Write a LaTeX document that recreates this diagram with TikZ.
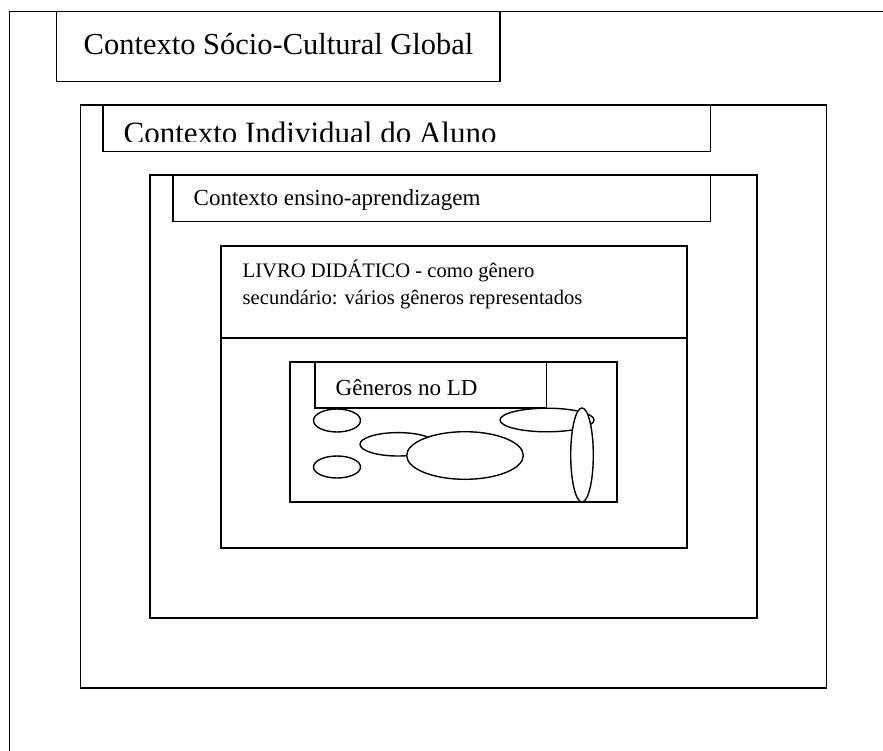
\documentclass[tikz,border=0pt]{standalone}
\usepackage{fontspec}
\setmainfont{Liberation Serif}
\begin{document}
\begin{tikzpicture}[x=1pt,y=-1pt,line width=1.4pt,
  frame/.style={draw,rectangle,inner sep=0pt,outer sep=0pt,anchor=north west,line width=1.4pt},
  bigtxt/.style={anchor=base west,inner sep=0pt,font=\fontsize{30.5}{36}\selectfont},
  smalltxt/.style={anchor=base west,inner sep=0pt,font=\fontsize{20.6}{27}\selectfont},
  blob/.style={draw,fill=white,line width=1.4pt}]
\useasboundingbox (0,0) rectangle (883,751);
% outer frame (open at right and bottom)
\coordinate (fbl) at (9.5,751);
\coordinate (ftl) at (9.5,11.5);
\coordinate (ftr) at (883,11.5);
\draw (fbl) -- (ftl) -- (ftr);
% Global context
\node[frame,minimum width=443.5pt,minimum height=70pt] (global) at (56.5,11.5) {};
\node[bigtxt] (tglobal) at (83,55) {Contexto Sócio-Cultural Global};
% Individual context
\node[frame,minimum width=746pt,minimum height=583pt] (indiv) at (80.5,105) {};
\node[frame,minimum width=607.5pt,minimum height=46.7pt] (indivlbl) at (103,105) {};
\begin{scope}
  \clip (103,105) rectangle (710.5,141.7);
  \node[bigtxt,font=\fontsize{31}{36}\selectfont] (tindiv) at (123,143.8) {Contexto Individual do Aluno};
\end{scope}
% Teaching-learning context
\node[frame,minimum width=607pt,minimum height=443pt] (ensino) at (150,175) {};
\node[frame,minimum width=537.5pt,minimum height=46.7pt] (ensinolbl) at (173,175) {};
\node[smalltxt,font=\fontsize{23}{27}\selectfont] (tensino) at (193,206) {Contexto ensino-aprendizagem};
% Livro didatico
\node[frame,minimum width=466pt,minimum height=302pt] (livro) at (221,246) {};
\coordinate (divl) at (221,338);
\coordinate (divr) at (687,338);
\draw (divl) -- (divr);
\node[smalltxt] (tlivroa) at (242,277) {LIVRO DIDÁTICO - como gênero};
\node[smalltxt] (tlivrob) at (242,304) {secundário: vários gêneros representados};
% Generos no LD
\node[frame,minimum width=327pt,minimum height=140pt] (generos) at (290,362) {};
\draw[blob] (337,420.5) ellipse [x radius=23.5pt,y radius=11.5pt];
\draw[blob] (337,467) ellipse [x radius=23.5pt,y radius=11pt];
\draw[blob] (398,444.3) ellipse [x radius=38pt,y radius=11.7pt];
\draw[blob] (465,455.5) ellipse [x radius=58.3pt,y radius=23.8pt];
\draw[blob] (547,420) ellipse [x radius=47pt,y radius=11.8pt];
\draw[blob] (582,455) ellipse [x radius=11.3pt,y radius=47pt];
\node[frame,fill=white,minimum width=231.5pt,minimum height=46pt] (generoslbl) at (315,362) {};
\node[smalltxt,font=\fontsize{23}{27}\selectfont] (tgeneros) at (335,395) {Gêneros no LD};
\end{tikzpicture}
\end{document}
